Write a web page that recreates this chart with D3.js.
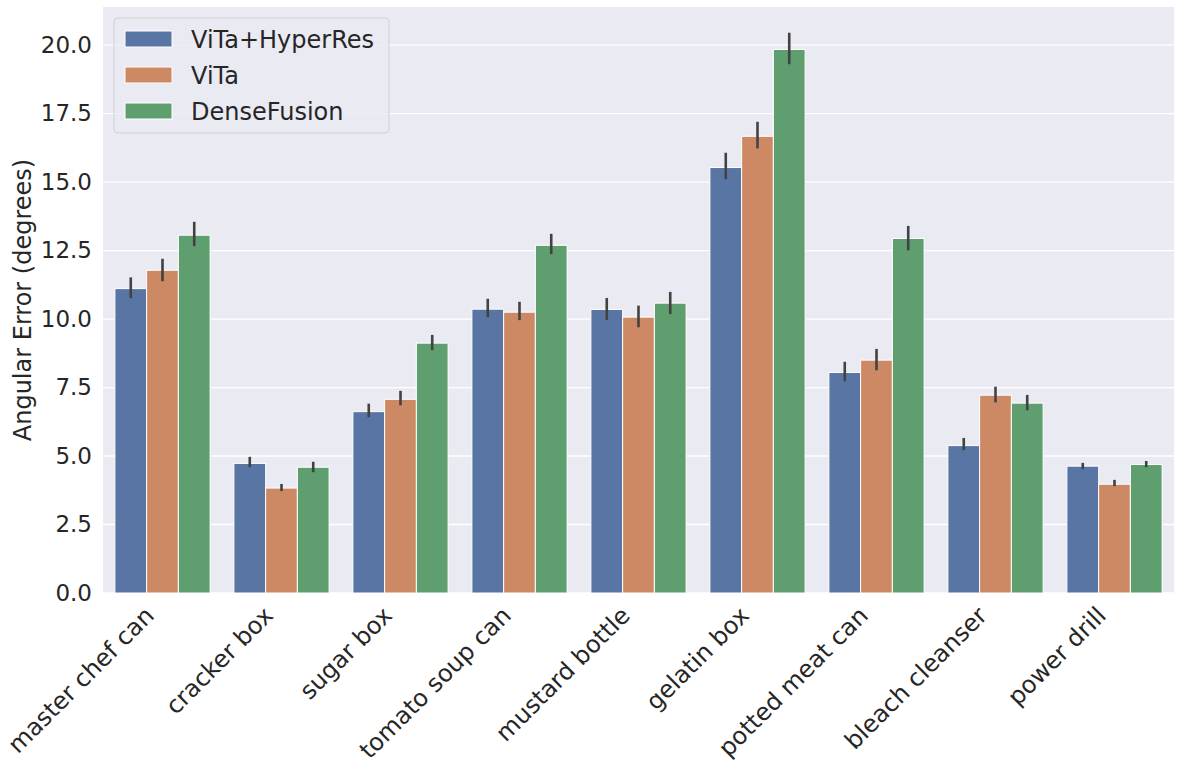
<!DOCTYPE html>
<html>
<head>
<meta charset="utf-8">
<script src="https://cdn.jsdelivr.net/npm/d3@7"></script>
<style>
  body { margin: 0; background: #fff; }
  text { font-family: "DejaVu Sans", sans-serif; fill: #262626; }
</style>
</head>
<body>
<div id="chart"></div>
<script>
// categories and series
const categories = ["master chef can", "cracker box", "sugar box", "tomato soup can",
  "mustard bottle", "gelatin box", "potted meat can", "bleach cleanser", "power drill"];
const seriesNames = ["ViTa+HyperRes", "ViTa", "DenseFusion"];

// bar heights (mean angular error)
const hyperResMean = [11.11, 4.73, 6.62, 10.36, 10.35, 15.53, 8.05, 5.38, 4.63];
const vitaMean = [11.78, 3.83, 7.07, 10.25, 10.07, 16.67, 8.50, 7.22, 3.97];
const denseMean = [13.06, 4.59, 9.12, 12.69, 10.58, 19.84, 12.94, 6.93, 4.69];

// confidence interval low / high
const hyperResLo = [10.76, 4.59, 6.42, 10.07, 9.96, 15.10, 7.73, 5.21, 4.52];
const hyperResHi = [11.52, 4.97, 6.91, 10.74, 10.77, 16.07, 8.44, 5.66, 4.75];
const vitaLo = [11.38, 3.72, 6.85, 9.96, 9.70, 16.23, 8.13, 6.96, 3.90];
const vitaHi = [12.20, 3.98, 7.38, 10.63, 10.49, 17.20, 8.91, 7.53, 4.13];
const denseLo = [12.66, 4.41, 8.86, 12.37, 10.18, 19.30, 12.51, 6.67, 4.59];
const denseHi = [13.55, 4.79, 9.42, 13.11, 10.99, 20.45, 13.40, 7.23, 4.82];

const yTicks = [0, 2.5, 5, 7.5, 10, 12.5, 15, 17.5, 20];
const colors = ["#5975a4", "#cc8963", "#5f9e6e"];

const means = [hyperResMean, vitaMean, denseMean];
const los = [hyperResLo, vitaLo, denseLo];
const his = [hyperResHi, vitaHi, denseHi];

const width = 1180, height = 769;
const margin = { top: 7, right: 6, bottom: 176, left: 103 };

const svg = d3.select("#chart").append("svg")
  .attr("width", width)
  .attr("height", height);

const x = d3.scaleBand()
  .domain(categories)
  .range([margin.left, width - margin.right])
  .paddingInner(0.2)
  .paddingOuter(0.1);

const xSub = d3.scaleBand()
  .domain(seriesNames)
  .range([0, x.bandwidth()]);

const y = d3.scaleLinear()
  .domain([0, 21.39])
  .range([height - margin.bottom, margin.top]);

// background
svg.append("rect")
  .attr("x", margin.left)
  .attr("y", margin.top)
  .attr("width", width - margin.left - margin.right)
  .attr("height", height - margin.top - margin.bottom)
  .attr("fill", "#eaeaf2");

// gridlines
svg.append("g")
  .selectAll("line")
  .data(yTicks)
  .join("line")
  .attr("x1", margin.left)
  .attr("x2", width - margin.right)
  .attr("y1", d => y(d))
  .attr("y2", d => y(d))
  .attr("stroke", "#fff")
  .attr("stroke-width", 1.3);

// bars
const rows = [];
seriesNames.forEach((s, si) => {
  categories.forEach((c, ci) => {
    rows.push({ cat: c, series: s, si, v: means[si][ci], lo: los[si][ci], hi: his[si][ci] });
  });
});

svg.append("g")
  .selectAll("rect")
  .data(rows)
  .join("rect")
  .attr("x", d => x(d.cat) + xSub(d.series))
  .attr("y", d => y(d.v))
  .attr("width", xSub.bandwidth())
  .attr("height", d => y(0) - y(d.v))
  .attr("fill", d => colors[d.si])
  .attr("stroke", "#fff")
  .attr("stroke-width", 1);

// error bars
svg.append("g")
  .selectAll("line")
  .data(rows)
  .join("line")
  .attr("x1", d => x(d.cat) + xSub(d.series) + xSub.bandwidth() / 2)
  .attr("x2", d => x(d.cat) + xSub(d.series) + xSub.bandwidth() / 2)
  .attr("y1", d => y(d.lo))
  .attr("y2", d => y(d.hi))
  .attr("stroke", "#424242")
  .attr("stroke-width", 2.6);

// y axis labels
const yAxis = svg.append("g")
  .attr("transform", `translate(${margin.left},0)`)
  .call(d3.axisLeft(y).tickValues(yTicks).tickFormat(d3.format(".1f")).tickSize(0).tickPadding(11));
yAxis.select(".domain").remove();
yAxis.selectAll("text")
  .style("font-size", "23px")
  .attr("fill", "#262626");

// x axis labels
const xAxis = svg.append("g")
  .attr("transform", `translate(0,${height - margin.bottom})`)
  .call(d3.axisBottom(x).tickSize(0).tickPadding(0));
xAxis.select(".domain").remove();
xAxis.selectAll("text")
  .style("font-size", "24px")
  .attr("fill", "#262626")
  .attr("text-anchor", "end")
  .attr("dy", null)
  .attr("y", 0)
  .attr("transform", "translate(-7,24) rotate(-45)");

// y axis title
svg.append("text")
  .attr("transform", `translate(31,${(margin.top + height - margin.bottom) / 2}) rotate(-90)`)
  .attr("text-anchor", "middle")
  .style("font-size", "24px")
  .text("Angular Error (degrees)");

// legend
const legend = svg.append("g").attr("transform", "translate(114,18)");
legend.append("rect")
  .attr("width", 275)
  .attr("height", 115)
  .attr("rx", 4)
  .attr("fill", "#eaeaf2")
  .attr("fill-opacity", 0.8)
  .attr("stroke", "#d0d0d6");

const item = legend.selectAll("g.item")
  .data(seriesNames)
  .join("g")
  .attr("class", "item")
  .attr("transform", (d, i) => `translate(11,${21 + i * 36})`);

item.append("rect")
  .attr("x", 0)
  .attr("y", -8)
  .attr("width", 47)
  .attr("height", 16)
  .attr("fill", (d, i) => colors[i])
  .attr("stroke", "#fff")
  .attr("stroke-width", 1);

item.append("text")
  .attr("x", 66)
  .attr("y", 0)
  .attr("dy", "0.36em")
  .style("font-size", "24px")
  .text(d => d);
</script>
</body>
</html>
